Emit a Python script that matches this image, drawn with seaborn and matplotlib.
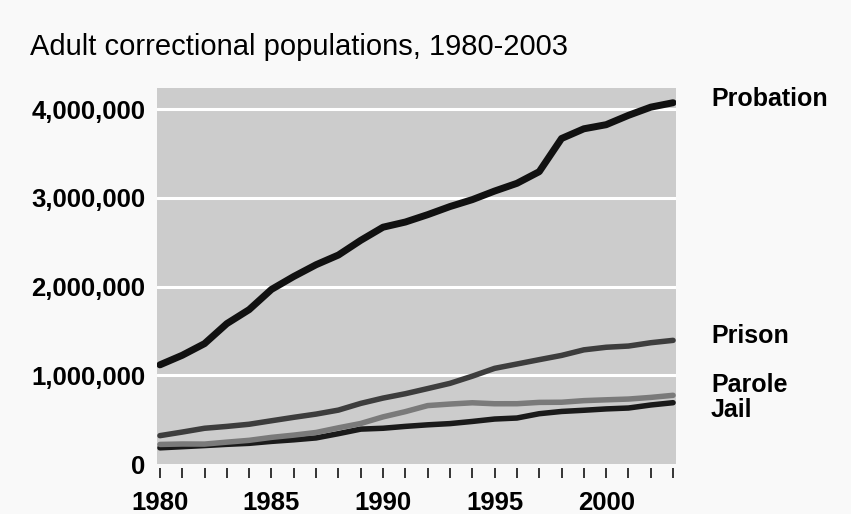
import matplotlib
matplotlib.use("Agg")
import matplotlib.pyplot as plt
import seaborn as sns
import numpy as np
import pandas as pd

# --------------------------------------------------
# Data: adult correctional populations (BJS)
# --------------------------------------------------

years = list(range(1980, 2004))

probation = [1118097, 1225934, 1357264, 1582947, 1740948, 1968712, 2114621, 2247158,
             2356483, 2522125, 2670234, 2728472, 2811611, 2903061, 2981022, 3077861,
             3164996, 3296513, 3670441, 3779922, 3826209, 3931731, 4024067, 4073987]

prison = [319598, 360029, 402914, 423898, 448264, 487593, 526436, 562814,
          607766, 683367, 743382, 792535, 850566, 909381, 990147, 1078542,
          1127528, 1176564, 1224469, 1287172, 1316333, 1330007, 1367547, 1394319]

parole = [220438, 225539, 224604, 246440, 266992, 300203, 325638, 355505,
          407977, 456803, 531407, 590442, 658601, 676100, 690371, 679421,
          679733, 694787, 696385, 714457, 723898, 732333, 750934, 774588]

jail = [182288, 195085, 207853, 221815, 233018, 254986, 272736, 294092,
        341893, 393303, 403019, 424129, 441781, 455500, 479800, 507044,
        518492, 567079, 592462, 605943, 621149, 631240, 665475, 691301]

series_names = ["Jail", "Parole", "Prison", "Probation"]

df = pd.DataFrame({"year": years, "Probation": probation, "Prison": prison,
                   "Parole": parole, "Jail": jail})
long_df = df.melt(id_vars="year", var_name="series", value_name="count")

# styling per series (colour, line width px, label y offset px)
colors = {"Probation": "#111111", "Prison": "#3d3d3d", "Parole": "#7a7a7a", "Jail": "#1a1a1a"}
widths = {"Probation": 7, "Prison": 5.5, "Parole": 5.5, "Jail": 5.5}
label_dy = {"Probation": 4, "Prison": 4, "Parole": 10.5, "Jail": -7.5}

# --------------------------------------------------
# Figure
# --------------------------------------------------

sns.set_theme(style="darkgrid", rc={
    "axes.facecolor": "#cccccc",
    "figure.facecolor": "#f9f9f9",
    "grid.color": "white",
    "grid.linewidth": 2.2,
})
plt.rcParams["font.family"] = ["Liberation Sans", "DejaVu Sans"]

fig = plt.figure(figsize=(8.51, 5.14), dpi=100)
ax = fig.add_axes([157 / 851, 1 - 464 / 514, (676 - 157) / 851, (464 - 88) / 514])

for name in series_names:
    sub = long_df[long_df["series"] == name]
    sns.lineplot(data=sub, x="year", y="count", ax=ax, color=colors[name],
                 linewidth=widths[name] * 0.72, legend=False, zorder=3)

ax.set_xlim(1979.87, 2003.13)
ax.set_ylim(0, 4.24e6)

ax.set_xticks(range(1980, 2001, 5))
ax.set_xticks(years, minor=True)
ax.set_xticklabels([str(y) for y in range(1980, 2001, 5)])
ax.set_yticks([0, 1e6, 2e6, 3e6, 4e6])
ax.set_yticklabels(["0", "1,000,000", "2,000,000", "3,000,000", "4,000,000"])
ax.grid(axis="x", visible=False)
ax.grid(axis="y", which="major", visible=True)
ax.yaxis.get_gridlines()[0].set_visible(False)

for s in ax.spines.values():
    s.set_visible(False)
ax.spines["bottom"].set_position(("outward", 2.9))

ax.tick_params(axis="x", which="both", bottom=True, direction="out", length=7.2,
               width=1.1, color="black")
ax.tick_params(axis="x", which="major", pad=9.5)
ax.tick_params(axis="y", length=0, pad=8.5)
for lab in ax.get_xticklabels() + ax.get_yticklabels():
    lab.set_fontsize(18.5)
    lab.set_fontweight("bold")
    lab.set_color("black")

ax.set_xlabel("")
ax.set_ylabel("")

# end labels
for name in ["Probation", "Prison", "Parole", "Jail"]:
    ax.annotate(name, xy=(years[-1], df[name].iloc[-1]),
                xytext=(38 * 0.72, label_dy[name] * 0.72), textcoords="offset points",
                ha="left", va="center", fontsize=18, fontweight="bold",
                color="black", annotation_clip=False)

fig.text(30 / 851, 1 - 55 / 514, "Adult correctional populations, 1980-2003",
         fontsize=21, color="black", ha="left", va="baseline")

fig.savefig("out.png", dpi=100, facecolor=fig.get_facecolor())
